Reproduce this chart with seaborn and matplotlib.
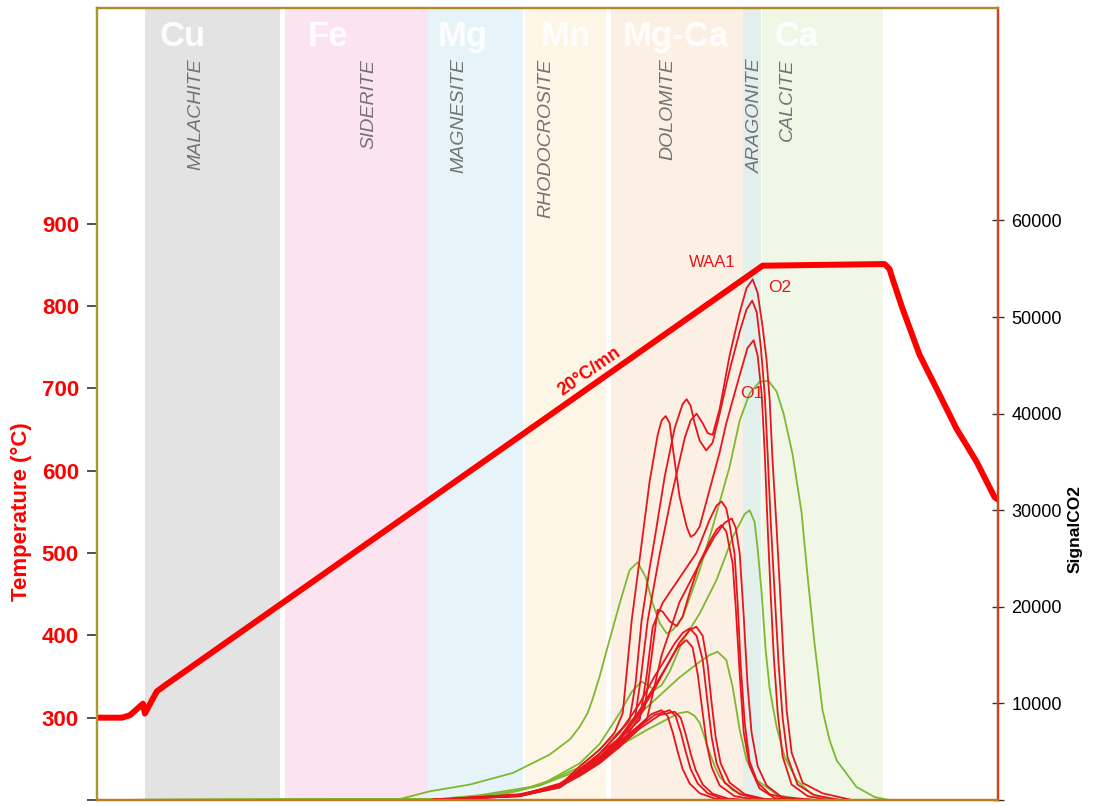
import matplotlib
matplotlib.use("Agg")
import matplotlib.pyplot as plt
from matplotlib import transforms
import pandas as pd
import seaborn as sns

# ---------------------------------------------------------------------------
# Heating programme: time (min) -> oven temperature (degC)
temp_time = [0, 1.06, 1.40, 1.95, 2.03, 2.29, 2.54, 2.97, 3.52, 28.22,
             33.39, 33.60, 33.73, 34.15, 34.87, 35.59, 36.44, 37.29, 38.05, 38.2]
temp_value = [300, 300, 303, 317, 305, 319, 332, 341, 352, 849,
              851, 845, 833, 797, 741, 700, 651, 611, 568, 565]

# Decomposition windows of the carbonate minerals (min)
mineral_names = ["MALACHITE", "SIDERITE", "MAGNESITE", "RHODOCROSITE",
                 "DOLOMITE", "ARAGONITE", "CALCITE"]
mineral_start = [2.03, 7.97, 14.03, 18.14, 21.78, 27.37, 28.18]
mineral_end = [7.75, 14.03, 18.05, 21.57, 27.37, 28.14, 33.31]
mineral_colors = ["#e3e3e3", "#fbe4ef", "#e6f3f9", "#fdf5e5",
                  "#fcefe3", "#e2efea", "#f0f7e7"]
mineral_label_x = [4.19, 11.53, 15.34, 19.03, 24.19, 27.92, 29.28]

cation_names = ["Cu", "Fe", "Mg", "Mn", "Mg-Ca", "Ca"]
cation_label_x = [3.64, 9.79, 15.5, 19.87, 24.53, 29.66]

# CO2 signal of the analysed samples: (time min, signal counts)
r1 = [(0, 0), (14.11, 0), (17.92, 600), (19.62, 1500), (20.47, 3500), (21.31, 5200),
      (21.95, 7000), (22.29, 9000), (22.67, 18600), (23.01, 25000), (23.43, 33000),
      (23.77, 37800), (23.94, 39300), (24.11, 39750), (24.28, 39000), (24.41, 36500),
      (24.70, 31400), (25.00, 28300), (25.17, 27250), (25.34, 27500), (25.55, 28300),
      (25.97, 32100), (26.40, 36000), (26.68, 39000), (27.25, 44000), (27.58, 46800),
      (27.84, 47600), (28.01, 46000), (28.18, 42000), (28.31, 36000), (28.43, 28500),
      (28.56, 21400), (28.69, 15000), (28.86, 9000), (29.07, 4500), (29.45, 1600),
      (30.13, 400), (31.0, 0), (38.2, 0)]
r2 = [(0, 0), (14.11, 0), (17.92, 500), (19.62, 1400), (20.47, 3000), (21.31, 4800),
      (21.95, 6500), (22.58, 8300), (22.83, 12000), (23.09, 18600), (23.43, 24000),
      (23.64, 27000), (24.07, 33500), (24.49, 38500), (24.83, 41000), (25.00, 41500),
      (25.17, 40800), (25.34, 39000), (25.55, 37200), (25.83, 36200), (26.10, 37000),
      (26.40, 40000), (26.82, 44500), (27.25, 48500), (27.54, 50800), (27.78, 51700),
      (27.97, 50500), (28.14, 47000), (28.31, 42000), (28.43, 36000), (28.56, 29000),
      (28.73, 21400), (28.90, 14000), (29.07, 8500), (29.28, 4400), (29.70, 1600),
      (30.42, 500), (31.5, 0), (38.2, 0)]
r3 = [(0, 0), (14.11, 0), (17.92, 450), (19.62, 1300), (20.47, 2800), (21.31, 4500),
      (22.16, 6300), (22.80, 8300), (23.05, 12500), (23.35, 18600), (23.86, 25500),
      (24.36, 31500), (24.92, 37500), (25.17, 39300), (25.42, 40000), (25.68, 39000),
      (25.89, 38000), (26.10, 37800), (26.40, 40500), (26.82, 46000), (27.25, 50500),
      (27.54, 53000), (27.80, 53900), (28.01, 52500), (28.22, 49000), (28.39, 45500),
      (28.52, 41400), (28.64, 35200), (28.81, 28300), (28.94, 22500), (29.11, 14500),
      (29.24, 9300), (29.45, 4900), (29.92, 1760), (30.76, 700), (32.0, 0), (38.2, 0)]
r4 = [(0, 0), (14.11, 0), (17.92, 500), (19.62, 1500), (20.47, 3200), (21.31, 4800),
      (22.37, 6800), (23.01, 8300), (23.31, 13000), (23.56, 17900), (23.98, 20400),
      (24.70, 23000), (25.42, 25600), (25.97, 29000), (26.27, 30500), (26.48, 30900),
      (26.68, 30200), (26.82, 28500), (27.03, 25500), (27.16, 20400), (27.29, 14000),
      (27.46, 8000), (27.67, 4000), (28.01, 1800), (28.52, 600), (29.36, 100),
      (30.5, 0), (38.2, 0)]
r5 = [(0, 0), (14.11, 0), (17.92, 450), (19.62, 1400), (20.47, 3000), (21.31, 4500),
      (22.37, 6500), (23.31, 8300), (23.94, 15000), (24.70, 20500), (25.55, 24500),
      (26.19, 27300), (26.61, 28700), (26.91, 29150), (27.08, 28200), (27.25, 25500),
      (27.42, 19000), (27.58, 12000), (27.75, 7000), (28.01, 3500), (28.39, 1500),
      (29.03, 300), (30.5, 0), (38.2, 0)]
r6 = [(0, 0), (14.11, 0), (17.92, 400), (19.62, 1300), (20.47, 2800), (21.31, 4300),
      (22.37, 6300), (23.22, 9500), (23.52, 15000), (23.77, 19700), (23.98, 19500),
      (24.28, 18500), (24.58, 18000), (24.83, 19000), (25.13, 21500), (25.55, 24600),
      (25.97, 26700), (26.27, 28000), (26.48, 28460), (26.68, 27800), (26.95, 24500),
      (27.08, 20000), (27.25, 13000), (27.42, 7000), (27.67, 3500), (28.09, 1200),
      (28.73, 200), (30.0, 0), (38.2, 0)]
r7 = [(0, 0), (14.11, 0), (17.92, 500), (19.62, 1700), (20.47, 3000), (21.31, 4800),
      (22.16, 7000), (23.01, 10000), (23.64, 12800), (24.07, 14500), (24.49, 16200),
      (24.83, 17300), (25.13, 17770), (25.42, 17000), (25.68, 14500), (25.89, 10000),
      (26.06, 6500), (26.27, 3800), (26.61, 1800), (27.25, 600), (28.09, 100),
      (29.0, 0), (38.2, 0)]
r8 = [(0, 0), (14.11, 0), (17.92, 450), (19.62, 1500), (20.47, 2700), (21.31, 4300),
      (22.16, 6500), (23.01, 9300), (23.64, 11800), (24.19, 14000), (24.70, 16300),
      (25.13, 17600), (25.41, 17940), (25.68, 17000), (25.89, 14000), (26.06, 10000),
      (26.23, 6500), (26.44, 3800), (26.82, 1800), (27.46, 600), (28.31, 100),
      (29.3, 0), (38.2, 0)]
r9 = [(0, 0), (14.11, 0), (17.92, 400), (19.62, 1400), (20.47, 2600), (21.31, 4100),
      (22.16, 6200), (23.01, 9000), (23.64, 11500), (24.19, 14000), (24.62, 15800),
      (24.99, 16560), (25.25, 15800), (25.47, 13000), (25.68, 9000), (25.85, 5800),
      (26.06, 3400), (26.40, 1500), (27.03, 400), (28.0, 0), (38.2, 0)]
r10 = [(0, 0), (14.11, 0), (17.92, 500), (19.62, 1600), (20.47, 2700), (21.31, 4000),
       (22.16, 5900), (23.01, 7800), (23.52, 8900), (23.93, 9300), (24.19, 8700),
       (24.41, 7000), (24.62, 5000), (24.83, 3200), (25.13, 1700), (25.55, 700),
       (26.19, 150), (27.0, 0), (38.2, 0)]
r11 = [(0, 0), (14.11, 0), (17.92, 450), (19.62, 1500), (20.47, 2600), (21.31, 3900),
       (22.16, 5700), (23.01, 7600), (23.64, 8800), (24.28, 9300), (24.53, 8700),
       (24.75, 7000), (24.96, 5000), (25.17, 3200), (25.47, 1700), (25.89, 700),
       (26.48, 150), (27.3, 0), (38.2, 0)]
r12 = [(0, 0), (14.11, 0), (17.92, 400), (19.62, 1400), (20.47, 2500), (21.31, 3800),
       (22.16, 5500), (23.01, 7400), (23.86, 8800), (24.49, 9140), (24.75, 8500),
       (24.96, 6800), (25.17, 4800), (25.38, 3100), (25.68, 1600), (26.10, 650),
       (26.74, 150), (27.5, 0), (38.2, 0)]

g1 = [(0, 0), (12.84, 100), (14.11, 900), (15.81, 1600), (17.63, 2800), (19.19, 4700),
      (20.06, 6300), (20.47, 7600), (20.80, 9000), (21.02, 10500), (21.31, 12800),
      (21.61, 15500), (21.95, 18500), (22.16, 20350), (22.58, 23800), (22.92, 24600),
      (23.26, 23100), (23.56, 20350), (23.86, 18300), (24.15, 17250), (24.41, 17600),
      (24.83, 18900), (25.55, 23800), (26.10, 28250), (26.82, 34500), (27.25, 39300),
      (27.67, 42100), (28.09, 43300), (28.47, 43400), (28.81, 42300), (29.11, 40000),
      (29.49, 35800), (29.87, 29800), (30.13, 23100), (30.42, 16250), (30.76, 9300),
      (31.06, 6200), (31.36, 4100), (32.20, 1350), (32.97, 300), (33.6, 0), (38.2, 0)]
g2 = [(0, 0), (15.38, 100), (17.08, 500), (18.77, 1500), (20.47, 3800), (21.31, 5800),
      (22.16, 9000), (22.67, 11200), (23.08, 12250), (23.35, 11900), (23.64, 11400),
      (23.94, 11900), (24.28, 13300), (24.85, 16560), (25.55, 19300), (26.27, 22800),
      (26.95, 27200), (27.46, 29600), (27.67, 30000), (27.88, 28800), (28.01, 26000),
      (28.18, 21400), (28.35, 15500), (28.52, 11500), (28.81, 7600), (29.15, 4500),
      (29.66, 2070), (30.30, 600), (31.06, 100), (32.0, 0), (38.2, 0)]
g3 = [(0, 0), (14.53, 100), (16.23, 400), (17.92, 1000), (19.19, 2000), (20.47, 3400),
      (21.86, 6500), (23.31, 9600), (24.70, 12700), (25.55, 14300), (25.97, 15000),
      (26.31, 15350), (26.68, 14500), (26.95, 11700), (27.25, 7250), (27.54, 4140),
      (27.97, 2070), (28.86, 500), (29.79, 100), (30.5, 0), (38.2, 0)]
g4 = [(0, 0), (14.53, 100), (16.23, 500), (18.77, 1500), (20.47, 3100), (21.86, 5200),
      (23.31, 7250), (24.28, 8500), (24.70, 9000), (25.04, 9140), (25.34, 8700),
      (25.55, 8000), (25.76, 6500), (25.97, 4900), (26.19, 3500), (26.40, 2400),
      (26.95, 1000), (27.67, 300), (28.52, 50), (29.5, 0), (38.2, 0)]

red_samples = {"R1": r1, "R2": r2, "R3": r3, "R4": r4, "R5": r5, "R6": r6,
               "R7": r7, "R8": r8, "R9": r9, "R10": r10, "R11": r11, "R12": r12}
green_samples = {"G1": g1, "G2": g2, "G3": g3, "G4": g4}

temp_ticks = [200, 300, 400, 500, 600, 700, 800, 900]
co2_ticks = [0, 10000, 20000, 30000, 40000, 50000, 60000]


def to_frame(samples):
    parts = []
    for name, pts in samples.items():
        d = pd.DataFrame(pts, columns=["time", "signal"])
        d["sample"] = name
        parts.append(d)
    return pd.concat(parts, ignore_index=True)


red_df = to_frame(red_samples)
green_df = to_frame(green_samples)
temp_df = pd.DataFrame({"time": temp_time, "temperature": temp_value})

# ---------------------------------------------------------------------------
sns.set_theme(style="white")
plt.rcParams["font.family"] = ["Liberation Sans", "DejaVu Sans"]
plt.rcParams["lines.solid_joinstyle"] = "round"

RED = "#ff0000"
CURVE_RED = "#e8141c"
CURVE_GREEN = "#7cb930"

fig = plt.figure(figsize=(10.96, 8.06), dpi=100)
ax = fig.add_axes([97 / 1096, 6 / 806, 901 / 1096, 792 / 806])
ax.set_xlim(0, 38.2)
ax.set_ylim(200, 1162)

# mineral windows
for s, e, c in zip(mineral_start, mineral_end, mineral_colors):
    ax.axvspan(s, e, color=c, lw=0, zorder=0)

trans = transforms.blended_transform_factory(ax.transData, ax.transAxes)
for name, x in zip(mineral_names, mineral_label_x):
    ax.text(x, 0.936, name, transform=trans, rotation=90, ha="center", va="top",
            fontsize=14, fontstyle="italic", color="#737373", zorder=1)
for name, x in zip(cation_names, cation_label_x):
    ax.text(x, 0.952, name, transform=trans, ha="center", va="baseline",
            fontsize=25, fontweight="bold", color="white", alpha=0.9, zorder=1)

# temperature programme
sns.lineplot(data=temp_df, x="time", y="temperature", ax=ax, color=RED,
             lw=4.3, sort=False, zorder=3)
ax.text(20.89, 720, "20°C/mn", rotation=35, rotation_mode="anchor",
        ha="center", va="center", color=RED, fontsize=13, fontweight="bold")

# CO2 signal on the secondary axis
ax2 = ax.twinx()
ax2.set_ylim(0, 82000)
sns.lineplot(data=green_df, x="time", y="signal", units="sample", estimator=None,
             color=CURVE_GREEN, lw=1.3, sort=False, ax=ax2)
sns.lineplot(data=red_df, x="time", y="signal", units="sample", estimator=None,
             color=CURVE_RED, lw=1.3, sort=False, ax=ax2)

ax2.text(26.1, 55700, "WAA1", ha="center", va="center", color=CURVE_RED, fontsize=12)
ax2.text(28.95, 53100, "O2", ha="center", va="center", color=CURVE_RED, fontsize=12.5)
ax2.text(27.75, 42100, "O1", ha="center", va="center", color=CURVE_RED, fontsize=12.5)

# axes cosmetics
ax.set_xticks([])
ax.set_xlabel("")
ax.set_yticks(temp_ticks)
ax.set_yticklabels([""] + [str(v) for v in temp_ticks[1:]], color=RED,
                   fontsize=16, fontweight="bold")
ax.tick_params(axis="y", direction="out", length=7, width=1.2, color="#333333", pad=6,
               left=True)
ax.set_ylabel("Temperature (°C)", color=RED, fontsize=16, fontweight="bold")
ax.yaxis.set_label_coords(-0.072, 0.364)

ax2.set_yticks(co2_ticks)
ax2.set_yticklabels([""] + [str(v) for v in co2_ticks[1:]], color="black", fontsize=13)
ax2.tick_params(axis="y", direction="inout", length=9, width=1.0, color="#333333",
                pad=5, right=True)
ax2.set_ylabel("SignalCO2", fontsize=12.5, fontweight="bold", color="black",
               rotation=90)
ax2.yaxis.set_label_coords(1.077, 0.342)
ax2.set_xlabel("")

for a in (ax, ax2):
    a.grid(False)
    for sp in a.spines.values():
        sp.set_linewidth(1.6)
    a.spines["left"].set_color("#a89a30")
    a.spines["top"].set_color("#b08a2a")
    a.spines["bottom"].set_color("#c07a2a")
    a.spines["right"].set_color("#d8401a")

fig.savefig("out.png", dpi=100)
